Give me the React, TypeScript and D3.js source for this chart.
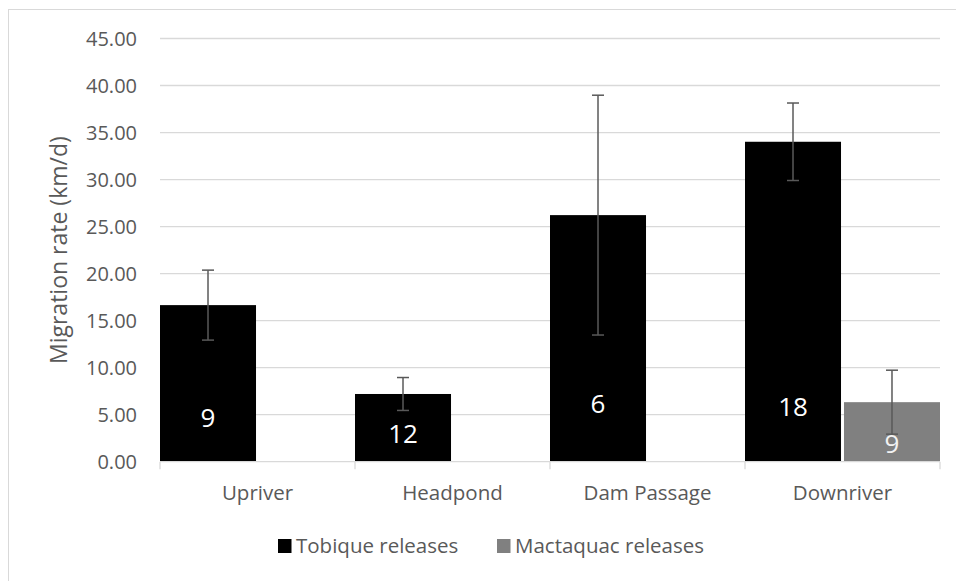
import React from "react";
import * as d3 from "d3";

const categories = ["Upriver", "Headpond", "Dam Passage", "Downriver"];
const seriesNames = ["Tobique releases", "Mactaquac releases"];
const tobiqueValues = [16.65, 7.2, 26.22, 34.02];
const tobiqueErrors = [3.72, 1.75, 12.75, 4.12];
const tobiqueN = ["9", "12", "6", "18"];
const tobiqueLabelAt = [4.65, 2.95, 6.15, 5.85];
const mactaquacValues = [null, null, null, 6.33];
const mactaquacErrors = [null, null, null, 3.4];
const mactaquacN = [null, null, null, "9"];
const mactaquacLabelAt = [null, null, null, 1.9];
const yTicks = [0, 5, 10, 15, 20, 25, 30, 35, 40, 45];

const W = 956;
const H = 581;
const plotLeft = 160;
const plotRight = 940;
const plotTop = 38.5;
const plotBottom = 461.7;
const FONT = "'Open Sans', Calibri, sans-serif";
const TEXT = "#595959";
const GRID = "#d9d9d9";
const colors = ["#000000", "#808080"];

export default function App() {
  const x = d3.scaleBand<string>().domain(categories).range([plotLeft, plotRight]).paddingInner(0).paddingOuter(0);
  const y = d3.scaleLinear().domain([0, 45]).range([plotBottom, plotTop]);
  const sub = d3.scaleBand<string>().domain(seriesNames).range([0, x.bandwidth()]).paddingInner(0.03);

  const series = [
    { name: seriesNames[0], values: tobiqueValues, errors: tobiqueErrors, n: tobiqueN, labelAt: tobiqueLabelAt, color: colors[0], labelColor: "#ffffff" },
    { name: seriesNames[1], values: mactaquacValues, errors: mactaquacErrors, n: mactaquacN, labelAt: mactaquacLabelAt, color: colors[1], labelColor: "#f2f2f2" },
  ];

  const boundaries = [...categories.map((c) => x(c)!), plotRight];

  return (
    <svg width={W} height={H} style={{ position: "absolute", left: 0, top: 0, background: "#fff" }}>
      <rect x={8.5} y={9.5} width={960} height={600} fill="#fff" stroke={GRID} strokeWidth={1} />
      {yTicks.map((t) => (
        <g key={t}>
          {t > 0 && <line x1={plotLeft} x2={plotRight} y1={y(t)} y2={y(t)} stroke={GRID} strokeWidth={1.3} />}
          <text x={137} y={y(t)} dy="0.36em" textAnchor="end" fontFamily={FONT} fontSize={20} fill={TEXT}>
            {t.toFixed(2)}
          </text>
        </g>
      ))}
      {series.map((s) =>
        categories.map((c, i) => {
          const v = s.values[i];
          if (v == null) return null;
          const bx = x(c)! + sub(s.name)!;
          const bw = sub.bandwidth();
          return (
            <rect key={s.name + c} x={bx} y={y(v)} width={bw} height={y(0) - y(v)} fill={s.color} />
          );
        })
      )}
      <line x1={plotLeft} x2={plotRight} y1={plotBottom} y2={plotBottom} stroke={GRID} strokeWidth={1.3} />
      {boundaries.map((b, i) => (
        <line key={i} x1={b} x2={b} y1={plotBottom} y2={plotBottom + 7.5} stroke={GRID} strokeWidth={1.3} />
      ))}
      {series.map((s) =>
        categories.map((c, i) => {
          const v = s.values[i];
          const e = s.errors[i];
          if (v == null || e == null) return null;
          const cx = x(c)! + sub(s.name)! + sub.bandwidth() / 2;
          return (
            <g key={"err" + s.name + c} stroke="#595959" strokeWidth={1.5}>
              <line x1={cx} x2={cx} y1={y(v + e)} y2={y(v - e)} />
              <line x1={cx - 6} x2={cx + 6} y1={y(v + e)} y2={y(v + e)} />
              <line x1={cx - 6} x2={cx + 6} y1={y(v - e)} y2={y(v - e)} />
            </g>
          );
        })
      )}
      {series.map((s) =>
        categories.map((c, i) => {
          const n = s.n[i];
          const la = s.labelAt[i];
          if (n == null || la == null) return null;
          const cx = x(c)! + sub(s.name)! + sub.bandwidth() / 2;
          return (
            <text key={"lab" + s.name + c} x={cx} y={y(la)} dy="0.36em" textAnchor="middle" fontFamily={FONT} fontSize={26} fill={s.labelColor}>
              {n}
            </text>
          );
        })
      )}
      {categories.map((c) => (
        <text key={c} x={x(c)! + x.bandwidth() / 2} y={500} textAnchor="middle" fontFamily={FONT} fontSize={20.5} fill={TEXT}>
          {c}
        </text>
      ))}
      <text transform={`translate(67, ${(plotTop + plotBottom) / 2}) rotate(-90)`} textAnchor="middle" fontFamily={FONT} fontSize={23} fill={TEXT}>
        Migration rate (km/d)
      </text>
      {series.map((s, i) => {
        const lx = i === 0 ? 278 : 497;
        return (
          <g key={"leg" + s.name}>
            <rect x={lx} y={539} width={13.5} height={14} fill={s.color} />
            <text x={lx + 18} y={553} fontFamily={FONT} fontSize={20.5} fill={TEXT}>
              {s.name}
            </text>
          </g>
        );
      })}
    </svg>
  );
}
